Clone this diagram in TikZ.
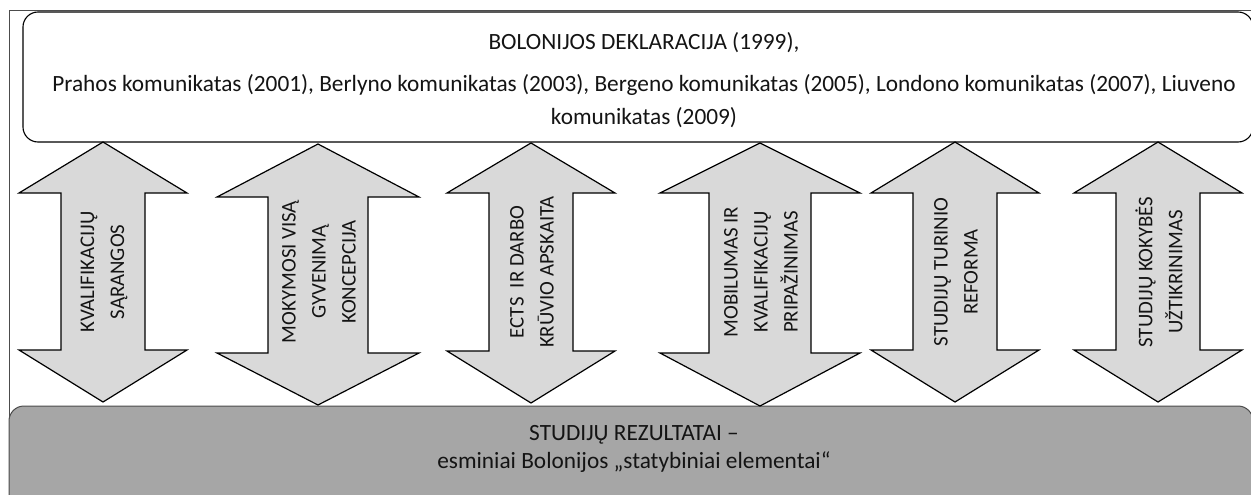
\documentclass[tikz,border=0pt]{standalone}
\usepackage{fontspec}
\setmainfont{Carlito}
\definecolor{arrowfill}{HTML}{D9D9D9}
\definecolor{basefill}{HTML}{A6A6A6}
\definecolor{txt}{HTML}{141414}
\tikzset{
  frameline/.style={draw=black!70, line width=1pt},
  topbox/.style={draw=black, line width=1.1pt, rounded corners=15pt, fill=white},
  basebox/.style={draw=black!70, line width=1pt, rounded corners=15pt, fill=basefill},
  dblarrow/.style={draw=black, line width=1.2pt, fill=arrowfill, line join=miter},
  arrowtext/.style={rotate=90, align=center, text=txt, font=\fontsize{20.8}{30}\selectfont, inner sep=0pt},
  boxtext/.style={align=center, text=txt, inner sep=0pt}
}
\begin{document}
\begin{tikzpicture}[x=1pt, y=-1pt]
\useasboundingbox (0,0) rectangle (1251,495);
\clip (0,0) rectangle (1251,495);
% outer frame
\draw[frameline] (9,500) -- (9,11) -- (1260,11);
% top box
\draw[topbox] (23,12) rectangle (1253,142);
\node[boxtext, font=\fontsize{23.3}{33}\selectfont] (top) at (644,80)
  {BOLONIJOS DEKLARACIJA (1999),\\[9pt]
   Prahos komunikatas (2001), Berlyno komunikatas (2003), Bergeno komunikatas (2005), Londono komunikatas (2007), Liuveno\\
   komunikatas (2009)};
% bottom box
\draw[basebox] (9,406) rectangle (1253,520);
\node[boxtext, font=\fontsize{23.3}{28}\selectfont] (bottom) at (634,449)
  {STUDIJŲ REZULTATAI –\\ esminiai Bolonijos „statybiniai elementai“};
% double arrows: name/cx/tip top/wing top/shaft bottom/tip bottom/half wing/half shaft/text
\foreach \n/\cx/\ta/\wa/\sb/\tb/\hw/\hs/\txt in {
  a1/103/142/193/350/402/84/42/{KVALIFIKACIJŲ\\SĄRANGOS},
  a2/318/144/197/353/405/101/50/{MOKYMOSI VISĄ\\GYVENIMĄ\\KONCEPCIJA},
  a3/531/143/193/351/403/84/42/{ECTS\ \ IR DARBO\\KRŪVIO APSKAITA},
  a4/760/143/193/353/406/100/51/{MOBILUMAS IR\\KVALIFIKACIJŲ\\PRIPAŽINIMAS},
  a5/955/142/193/350/402/84/42/{STUDIJŲ TURINIO\\REFORMA},
  a6/1158/142/193/350/402/84/42/{STUDIJŲ KOKYBĖS\\UŽTIKRINIMAS}}{
  \draw[dblarrow] (\cx,\ta) -- (\cx+\hw,\wa) -- (\cx+\hs,\wa) -- (\cx+\hs,\sb)
     -- (\cx+\hw,\sb) -- (\cx,\tb) -- (\cx-\hw,\sb) -- (\cx-\hs,\sb)
     -- (\cx-\hs,\wa) -- (\cx-\hw,\wa) -- cycle;
  \node[arrowtext] (\n) at (\cx+1,272) {\txt};
}
\end{tikzpicture}
\end{document}
